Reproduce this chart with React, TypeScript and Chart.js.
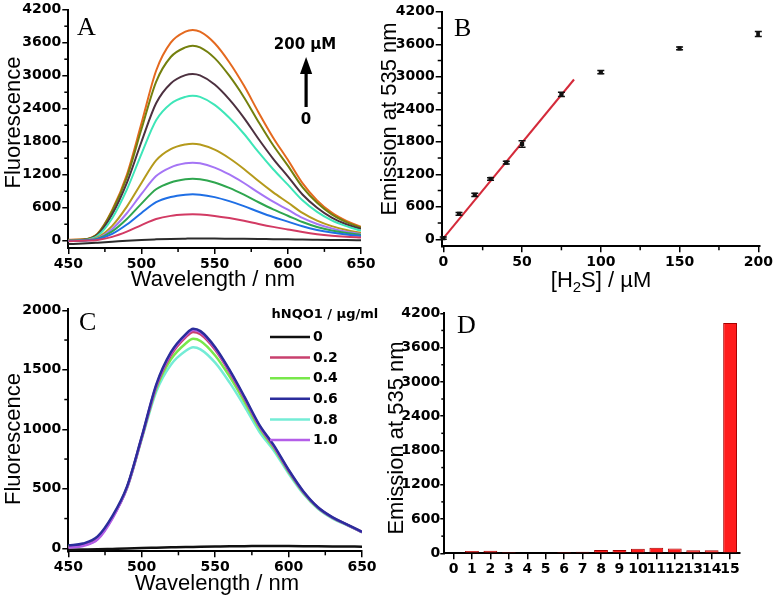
import React, { useEffect, useRef } from 'react';
import { Chart, registerables } from 'chart.js';

Chart.register(...registerables);

const PAGE_W = 774;
const PAGE_H = 601;
const Y_AXIS_W = 60;
const X_AXIS_H = 30;

const SANS = '"Liberation Sans", Arial, sans-serif';
const BOLD = '"DejaVu Sans", sans-serif';
const SERIF = '"Liberation Serif", "Times New Roman", serif';

// ================= Panel A: spectra vs [H2S] =================
const wavelengths = [450, 460, 470, 480, 490, 500, 510, 520, 530, 535, 540, 550, 560, 570, 580, 590, 600, 610, 620, 630, 640, 650];
const aLabels = ['0', '10', '20', '30', '40', '50', '75', '100', '150', '200'];
const aColors = ['#2b2b2b', '#d23a63', '#1f6fe5', '#2fa64f', '#a575f5', '#b59a1c', '#3ee6b8', '#4d3140', '#74800e', '#e4691f'];
const flH2S0 = [-60, -50, -35, -18, 0, 15, 25, 33, 38, 40, 40, 39, 37, 35, 32, 28, 25, 21, 18, 15, 12, 10];
const flH2S10 = [-10, 0, 15, 70, 165, 285, 395, 452, 476, 480, 477, 452, 412, 362, 305, 252, 205, 158, 120, 92, 72, 58];
const flH2S20 = [-5, 3, 28, 125, 295, 505, 700, 795, 838, 844, 838, 793, 720, 630, 528, 432, 348, 262, 196, 148, 113, 88];
const flH2S30 = [-5, 5, 38, 170, 395, 675, 935, 1060, 1118, 1127, 1118, 1058, 960, 838, 700, 570, 455, 340, 250, 185, 140, 105];
const flH2S40 = [0, 6, 48, 215, 500, 850, 1175, 1335, 1407, 1418, 1407, 1330, 1205, 1050, 875, 710, 565, 415, 305, 225, 165, 120];
const flH2S50 = [0, 8, 60, 270, 620, 1050, 1460, 1665, 1750, 1764, 1750, 1655, 1500, 1305, 1085, 880, 695, 505, 365, 265, 195, 140];
const flH2S75 = [0, 10, 90, 410, 930, 1580, 2190, 2490, 2615, 2636, 2615, 2470, 2235, 1945, 1610, 1300, 1020, 735, 525, 370, 265, 180];
const flH2S100 = [5, 15, 110, 480, 1050, 1800, 2500, 2860, 3010, 3031, 3005, 2840, 2570, 2235, 1850, 1490, 1170, 840, 600, 420, 300, 215];
const flH2S150 = [15, 22, 125, 540, 1150, 2030, 2890, 3340, 3515, 3545, 3515, 3320, 3000, 2610, 2160, 1735, 1365, 975, 690, 480, 340, 238];
const flH2S200 = [20, 25, 130, 560, 1200, 2134, 3090, 3600, 3800, 3831, 3800, 3590, 3245, 2820, 2333, 1874, 1471, 1047, 734, 510, 360, 255];
const aSeries = [flH2S0, flH2S10, flH2S20, flH2S30, flH2S40, flH2S50, flH2S75, flH2S100, flH2S150, flH2S200];
const fluorTicks = [0, 600, 1200, 1800, 2400, 3000, 3600, 4200];
const fluorMinor = [300, 900, 1500, 2100, 2700, 3300, 3900];
const waveTicks = [450, 500, 550, 600, 650];
const waveMinor = [475, 525, 575, 625];

// ================= Panel B: calibration =================
const bConc = [0, 10, 20, 30, 40, 50, 75, 100, 150, 200];
const bEmission = [20, 467, 818, 1113, 1414, 1759, 2676, 3088, 3526, 3790];
const bError = [20, 25, 30, 25, 25, 60, 40, 30, 25, 45];
const fitConc = [0, 83];
const fitEmission = [15, 2950];
const concTicks = [0, 50, 100, 150, 200];
const concMinor = [25, 75, 125, 175];

// ================= Panel C: hNQO1 =================
const cLabels = ['0', '0.2', '0.4', '0.6', '0.8', '1.0'];
const cColors = ['#101010', '#c8406e', '#78e84a', '#2b2d9c', '#74ecd6', '#b45ee8'];
const cOrder = [5, 2, 3, 0, 4, 1];
const flNQO0 = [-12, -10, -8, -5, -2, 2, 5, 8, 11, 12, 13, 15, 17, 18, 19, 20, 19, 18, 17, 16, 15, 14];
const flNQO02 = [10, 25, 80, 255, 510, 928, 1362, 1625, 1775, 1818, 1798, 1668, 1477, 1258, 1028, 853, 652, 474, 342, 257, 198, 137];
const flNQO04 = [15, 30, 88, 262, 512, 925, 1345, 1590, 1722, 1760, 1742, 1620, 1440, 1231, 1010, 840, 643, 468, 338, 255, 196, 136];
const flNQO06 = [25, 40, 100, 270, 520, 938, 1380, 1650, 1800, 1845, 1825, 1690, 1495, 1273, 1040, 865, 660, 480, 345, 260, 200, 138];
const flNQO08 = [20, 35, 92, 262, 505, 915, 1320, 1545, 1660, 1690, 1672, 1560, 1390, 1193, 982, 820, 628, 458, 332, 250, 193, 135];
const flNQO10 = [5, 20, 75, 250, 510, 930, 1370, 1640, 1790, 1835, 1815, 1680, 1487, 1265, 1032, 857, 655, 476, 343, 258, 198, 137];
const cSeries = [flNQO0, flNQO02, flNQO04, flNQO06, flNQO08, flNQO10];
const cTicks = [0, 500, 1000, 1500, 2000];
const cMinor = [250, 750, 1250, 1750];

// ================= Panel D: selectivity =================
const dLabels = ['0', '1', '2', '3', '4', '5', '6', '7', '8', '9', '10', '11', '12', '13', '14', '15'];
const dValues = [0, 40, 45, 22, 0, 0, 22, 28, 58, 58, 80, 98, 86, 55, 55, 4030];

// ================= helpers =================
const tickFont = { family: BOLD, weight: 'bold', size: 14 };

function fitter(isY: boolean) {
  return (s: any) => {
    if (isY) s.width = Y_AXIS_W;
    else s.height = X_AXIS_H;
    s.paddingLeft = 0;
    s.paddingRight = 0;
    s.paddingTop = 0;
    s.paddingBottom = 0;
  };
}

function gridCfg(len: number) {
  return { display: true, drawOnChartArea: false, drawTicks: true, tickLength: len, color: '#000', tickColor: '#000', lineWidth: 1.5, tickWidth: 1.5 };
}
const borderCfg = { display: true, color: '#000', width: 2 };

function linearAxis(min: number, max: number, majors: number[], isY: boolean, tickLen = 6, padding = isY ? 1 : 2) {
  return {
    type: 'linear',
    min,
    max,
    afterBuildTicks: (s: any) => {
      s.ticks = majors.map((v) => ({ value: v }));
    },
    afterFit: fitter(isY),
    grid: gridCfg(tickLen),
    border: borderCfg,
    ticks: { font: tickFont, color: '#000', padding, autoSkip: false, maxRotation: 0, minRotation: 0, callback: (v: any) => String(v) },
  };
}

function pad(l: number, t: number, r: number, b: number) {
  return { left: l - Y_AXIS_W, top: t, right: PAGE_W - r, bottom: PAGE_H - b - X_AXIS_H };
}

function baseOptions(padding: any, scales: any) {
  return {
    animation: false,
    responsive: false,
    devicePixelRatio: 1,
    events: [],
    layout: { padding },
    plugins: { legend: { display: false }, tooltip: { enabled: false }, title: { display: false } },
    scales,
  };
}

type Txt = { text: string; x: number; y: number; font: string; align?: CanvasTextAlign; baseline?: CanvasTextBaseline; rotate?: boolean };

function drawText(ctx: CanvasRenderingContext2D, t: Txt) {
  ctx.save();
  ctx.font = t.font;
  ctx.fillStyle = '#000';
  ctx.textAlign = t.align ?? 'center';
  ctx.textBaseline = t.baseline ?? 'alphabetic';
  ctx.translate(t.x, t.y);
  if (t.rotate) ctx.rotate(-Math.PI / 2);
  ctx.fillText(t.text, 0, 0);
  ctx.restore();
}

function decor(opts: { minorX?: number[]; minorY?: number[]; minorLen?: number; texts: Txt[]; draw?: (chart: any, ctx: CanvasRenderingContext2D) => void }) {
  return {
    id: 'decor',
    afterDraw(chart: any) {
      const ctx: CanvasRenderingContext2D = chart.ctx;
      const { left, bottom } = chart.chartArea;
      const xs = chart.scales.x;
      const ys = chart.scales.y;
      const ml = opts.minorLen ?? 4;
      ctx.save();
      ctx.strokeStyle = '#000';
      ctx.lineWidth = 1.5;
      (opts.minorX || []).forEach((v) => {
        const p = xs.getPixelForValue(v);
        ctx.beginPath();
        ctx.moveTo(p, bottom);
        ctx.lineTo(p, bottom + ml);
        ctx.stroke();
      });
      (opts.minorY || []).forEach((v) => {
        const p = ys.getPixelForValue(v);
        ctx.beginPath();
        ctx.moveTo(left, p);
        ctx.lineTo(left - ml, p);
        ctx.stroke();
      });
      ctx.restore();
      opts.texts.forEach((t) => drawText(ctx, t));
      if (opts.draw) {
        ctx.save();
        opts.draw(chart, ctx);
        ctx.restore();
      }
    },
  };
}

const TITLE_FONT = `22px ${SANS}`;
const LETTER_FONT = `26px ${SERIF}`;

// ================= chart configs =================
function configA(): any {
  return {
    type: 'line',
    data: {
      datasets: aSeries.map((s, i) => ({
        label: aLabels[i],
        data: wavelengths.map((w, j) => ({ x: w, y: s[j] })),
        borderColor: aColors[i],
        borderWidth: 2,
        pointRadius: 0,
        fill: false,
        cubicInterpolationMode: 'monotone',
      })),
    },
    options: baseOptions(pad(68.3, 9.7, 361, 247.9), {
      x: linearAxis(450, 650, waveTicks, false),
      y: linearAxis(-130, 4200, fluorTicks, true),
    }),
    plugins: [
      decor({
        minorX: waveMinor,
        minorY: fluorMinor,
        texts: [
          { text: 'A', x: 77, y: 35, font: LETTER_FONT, align: 'left' },
          { text: 'Fluorescence', x: 20, y: 122.5, font: TITLE_FONT, rotate: true },
          { text: 'Wavelength / nm', x: 213, y: 286, font: TITLE_FONT },
          { text: '200 µM', x: 305, y: 45, font: `bold 15px ${BOLD}`, baseline: 'middle' },
          { text: '0', x: 306, y: 120, font: `bold 15px ${BOLD}`, baseline: 'middle' },
        ],
        draw: (_chart, ctx) => {
          ctx.fillStyle = '#000';
          ctx.fillRect(304.5, 72, 3.2, 35);
          ctx.beginPath();
          ctx.moveTo(300, 74);
          ctx.lineTo(312.2, 74);
          ctx.lineTo(306.1, 57);
          ctx.closePath();
          ctx.fill();
        },
      }),
    ],
  };
}

function configB(): any {
  return {
    type: 'scatter',
    data: {
      datasets: [
        {
          label: 'Emission',
          data: bConc.map((x, i) => ({ x, y: bEmission[i] })),
          backgroundColor: '#111',
          borderColor: '#111',
          borderWidth: 0,
          pointStyle: 'rect',
          pointRadius: 3,
          showLine: false,
        },
        {
          type: 'line',
          label: 'Fit',
          data: fitConc.map((x, i) => ({ x, y: fitEmission[i] })),
          borderColor: '#d42a3a',
          borderWidth: 2,
          pointRadius: 0,
          fill: false,
        },
      ],
    },
    options: baseOptions(pad(441.7, 11.8, 759.9, 246.3), {
      x: linearAxis(-1, 201, concTicks, false),
      y: linearAxis(-130, 4200, fluorTicks, true),
    }),
    plugins: [
      decor({
        minorX: concMinor,
        minorY: fluorMinor,
        texts: [
          { text: 'B', x: 454, y: 36, font: LETTER_FONT, align: 'left' },
          { text: 'Emission at 535 nm', x: 396, y: 119, font: TITLE_FONT, rotate: true },
        ],
        draw: (chart, ctx) => {
          const meta = chart.getDatasetMeta(0);
          const ys = chart.scales.y;
          ctx.strokeStyle = '#111';
          ctx.lineWidth = 1.5;
          meta.data.forEach((pt: any, i: number) => {
            const yt = ys.getPixelForValue(bEmission[i] + bError[i]);
            const yb = ys.getPixelForValue(bEmission[i] - bError[i]);
            ctx.beginPath();
            ctx.moveTo(pt.x, yt);
            ctx.lineTo(pt.x, yb);
            ctx.moveTo(pt.x - 3.5, yt);
            ctx.lineTo(pt.x + 3.5, yt);
            ctx.moveTo(pt.x - 3.5, yb);
            ctx.lineTo(pt.x + 3.5, yb);
            ctx.stroke();
          });
          // x title with subscript
          const cx = 601;
          const base = 287;
          const big = `22px ${SANS}`;
          const small = `15px ${SANS}`;
          ctx.fillStyle = '#000';
          ctx.textBaseline = 'alphabetic';
          ctx.textAlign = 'left';
          ctx.font = big;
          const w1 = ctx.measureText('[H').width;
          const w3 = ctx.measureText('S] / µM').width;
          ctx.font = small;
          const w2 = ctx.measureText('2').width;
          let x = cx - (w1 + w2 + w3) / 2;
          ctx.font = big;
          ctx.fillText('[H', x, base);
          x += w1;
          ctx.font = small;
          ctx.fillText('2', x, base + 5);
          x += w2;
          ctx.font = big;
          ctx.fillText('S] / µM', x, base);
        },
      }),
    ],
  };
}

function configC(): any {
  return {
    type: 'line',
    data: {
      datasets: cSeries.map((s, i) => ({
        label: cLabels[i],
        data: wavelengths.map((w, j) => ({ x: w, y: s[j] })),
        borderColor: cColors[i],
        borderWidth: 2.5,
        pointRadius: 0,
        fill: false,
        order: cOrder[i],
        cubicInterpolationMode: 'monotone',
      })),
    },
    options: baseOptions(pad(68.3, 308.5, 362, 551.3), {
      x: linearAxis(450, 650, waveTicks, false),
      y: linearAxis(-25, 2015, cTicks, true),
    }),
    plugins: [
      decor({
        minorX: waveMinor,
        minorY: cMinor,
        texts: [
          { text: 'C', x: 79, y: 330, font: LETTER_FONT, align: 'left' },
          { text: 'Fluorescence', x: 20, y: 439, font: TITLE_FONT, rotate: true },
          { text: 'Wavelength / nm', x: 217, y: 590, font: TITLE_FONT },
          { text: 'hNQO1 / µg/ml', x: 271.5, y: 315, font: `bold 13px ${BOLD}`, align: 'left', baseline: 'middle' },
        ],
        draw: (_chart, ctx) => {
          cLabels.forEach((lab, i) => {
            const y = 337 + i * 20.6;
            ctx.strokeStyle = cColors[i];
            ctx.lineWidth = 2.5;
            ctx.beginPath();
            ctx.moveTo(270, y);
            ctx.lineTo(310, y);
            ctx.stroke();
            drawText(ctx, { text: lab, x: 313, y: y + 0.5, font: `bold 14px ${BOLD}`, align: 'left', baseline: 'middle' });
          });
        },
      }),
    ],
  };
}

function configD(): any {
  return {
    type: 'bar',
    data: {
      labels: dLabels,
      datasets: [
        {
          label: 'Emission at 535 nm',
          data: dValues,
          backgroundColor: '#ff1c1c',
          borderColor: '#a80000',
          borderWidth: 1,
          barPercentage: 0.75,
          categoryPercentage: 1,
        },
      ],
    },
    options: baseOptions(pad(444.3, 313.3, 739.3, 553.3), {
      x: {
        type: 'category',
        offset: true,
        afterFit: fitter(false),
        grid: { ...gridCfg(6), offset: false },
        border: borderCfg,
        ticks: { font: tickFont, color: '#000', padding: 2, autoSkip: false, maxRotation: 0, minRotation: 0 },
      },
      y: linearAxis(0, 4200, fluorTicks, true, 4, 0),
    }),
    plugins: [
      decor({
        minorY: fluorMinor,
        minorLen: 3,
        texts: [
          { text: 'D', x: 457, y: 333, font: LETTER_FONT, align: 'left' },
          { text: 'Emission at 535 nm', x: 402.5, y: 438, font: TITLE_FONT, rotate: true },
        ],
      }),
    ],
  };
}

function Panel({ make }: { make: () => any }) {
  const ref = useRef<HTMLCanvasElement>(null);
  useEffect(() => {
    if (!ref.current) return;
    const chart = new Chart(ref.current, make());
    return () => chart.destroy();
  }, [make]);
  return (
    <canvas
      ref={ref}
      width={PAGE_W}
      height={PAGE_H}
      style={{ position: 'absolute', left: 0, top: 0, width: PAGE_W, height: PAGE_H }}
    />
  );
}

export default function App() {
  return (
    <div style={{ position: 'absolute', left: 0, top: 0, width: PAGE_W, height: PAGE_H, background: '#fff' }}>
      <Panel make={configA} />
      <Panel make={configB} />
      <Panel make={configC} />
      <Panel make={configD} />
    </div>
  );
}
